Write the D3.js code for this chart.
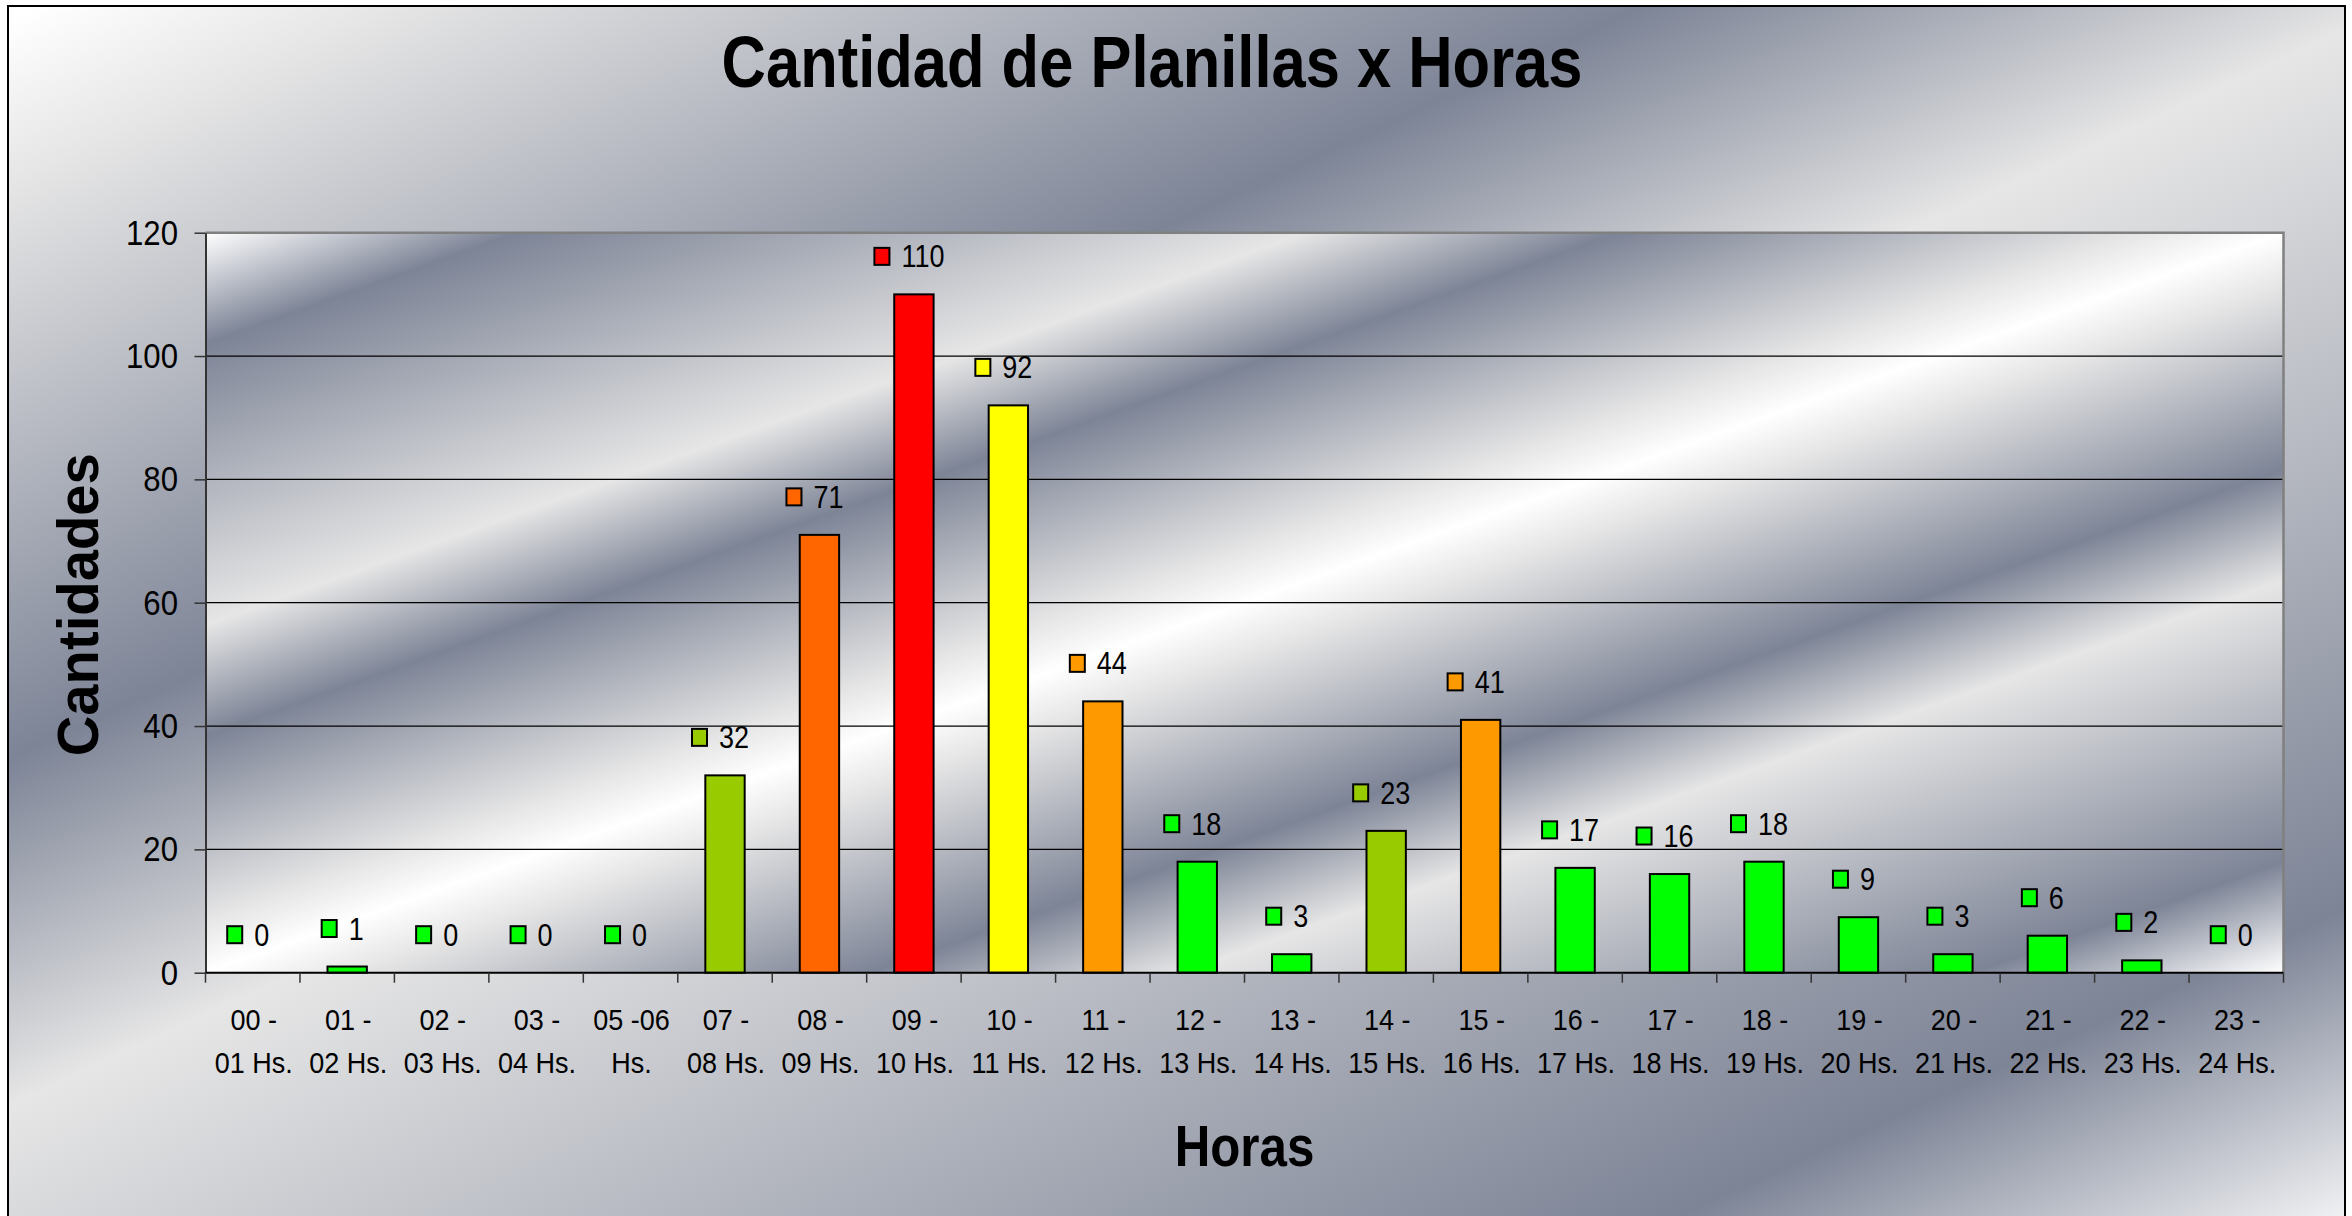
<!DOCTYPE html>
<html>
<head>
<meta charset="utf-8">
<script src="https://cdn.jsdelivr.net/npm/d3@7"></script>
<style>
  html, body { margin: 0; padding: 0; background: #fff; overflow: hidden; }
  svg { display: block; }
  text { font-family: "Liberation Sans", Arial, Helvetica, sans-serif; fill: #000; }
</style>
</head>
<body>
<svg id="chart" width="2352" height="1216"></svg>
<script>
// ---- data ----
const categories = [
  "00 - 01 Hs.", "01 - 02 Hs.", "02 - 03 Hs.", "03 - 04 Hs.", "05 -06 Hs.",
  "07 - 08 Hs.", "08 - 09 Hs.", "09 - 10 Hs.", "10 - 11 Hs.", "11 - 12 Hs.",
  "12 - 13 Hs.", "13 - 14 Hs.", "14 - 15 Hs.", "15 - 16 Hs.", "16 - 17 Hs.",
  "17 - 18 Hs.", "18 - 19 Hs.", "19 - 20 Hs.", "20 - 21 Hs.", "21 - 22 Hs.",
  "22 - 23 Hs.", "23 - 24 Hs."
];
const cantidades = [0, 1, 0, 0, 0, 32, 71, 110, 92, 44, 18, 3, 23, 41, 17, 16, 18, 9, 3, 6, 2, 0];
const yTicks = [0, 20, 40, 60, 80, 100, 120];
const chartTitle = "Cantidad de Planillas x Horas";
const yTitle = "Cantidades";
const xTitle = "Horas";

// ---- palette (one colour per bar) ----
const GREEN = "#00FF00", LIME = "#99CC00", DARKORANGE = "#FF6600",
      RED = "#FF0000", YELLOW = "#FFFF00", ORANGE = "#FF9900";
const barColors = [
  GREEN, GREEN, GREEN, GREEN, GREEN, LIME, DARKORANGE, RED, YELLOW, ORANGE,
  GREEN, GREEN, LIME, ORANGE, GREEN, GREEN, GREEN, GREEN, GREEN, GREEN, GREEN, GREEN
];

// ---- layout ----
const plot = { left: 205.5, top: 232.7, right: 2283.5, bottom: 972.7 };
const FONT = '"Liberation Sans", Arial, Helvetica, sans-serif';

const svg = d3.select("#chart");
const defs = svg.append("defs");

// Metallic "silver" diagonal fills
const WHITE = "#FFFFFF", LIGHT = "#E6E6E6", SLATE = "#7D8496";
function addGradient(id, stops, coords, userSpace) {
  const g = defs.append("linearGradient").attr("id", id)
    .attr("x1", coords[0]).attr("y1", coords[1]).attr("x2", coords[2]).attr("y2", coords[3]);
  if (userSpace) g.attr("gradientUnits", "userSpaceOnUse");
  stops.forEach(([o, c]) => g.append("stop").attr("offset", o).attr("stop-color", c));
}
addGradient("chartFill", [
  [0, WHITE], [0.07, LIGHT], [0.32, SLATE], [0.47, LIGHT], [0.85, SLATE], [1, WHITE]
], [8.8, 19, 886.6, 1927], true);
addGradient("plotFill", [
  [0, WHITE], [0.075, SLATE], [0.265, LIGHT], [0.34, SLATE], [0.465, LIGHT], [0.5, WHITE],
  [0.535, LIGHT], [0.66, SLATE], [0.735, LIGHT], [0.925, SLATE], [1, WHITE]
], [0, 0, 1, 1], false);

// chart area
svg.append("rect")
  .attr("x", 8).attr("y", 6).attr("width", 2337).attr("height", 1217)
  .attr("fill", "url(#chartFill)").attr("stroke", "#000").attr("stroke-width", 2);

// scales
const x = d3.scaleBand().domain(categories).range([plot.left, plot.right]).padding(0);
const y = d3.scaleLinear().domain([0, 120]).range([plot.bottom, plot.top]);
const barW = x.bandwidth() / 2.4;
const cx = c => x(c) + x.bandwidth() / 2;

// plot area background
svg.append("rect")
  .attr("x", plot.left).attr("y", plot.top)
  .attr("width", plot.right - plot.left).attr("height", plot.bottom - plot.top)
  .attr("fill", "url(#plotFill)");

// horizontal gridlines
svg.append("g").selectAll("line")
  .data(yTicks.filter(v => v > 0 && v < 120))
  .join("line")
  .attr("x1", plot.left).attr("x2", plot.right)
  .attr("y1", d => y(d)).attr("y2", d => y(d))
  .attr("stroke", "#000").attr("stroke-width", 1.3);

// plot area border (top and right)
svg.append("path")
  .attr("d", `M${plot.left},${plot.top}H${plot.right}V${plot.bottom}`)
  .attr("fill", "none").attr("stroke", "#808080").attr("stroke-width", 2.5);

// bars
svg.append("g").selectAll("rect")
  .data(categories.map((c, i) => ({ c, v: cantidades[i], color: barColors[i] })).filter(d => d.v > 0))
  .join("rect")
  .attr("x", d => cx(d.c) - barW / 2)
  .attr("y", d => y(d.v))
  .attr("width", barW)
  .attr("height", d => y(0) - y(d.v))
  .attr("fill", d => d.color)
  .attr("stroke", "#000").attr("stroke-width", 2);

// y axis
const Y_SQ = 0.89;
const yAxis = svg.append("g")
  .attr("transform", `translate(${plot.left},0)`)
  .call(d3.axisLeft(y).tickValues(yTicks).tickSize(11).tickSizeOuter(0));
yAxis.attr("font-family", null).attr("font-size", null);
yAxis.select(".domain").attr("stroke", "#333").attr("stroke-width", 2);
yAxis.selectAll(".tick line").attr("stroke", "#333").attr("stroke-width", 1.5);
yAxis.selectAll(".tick text")
  .attr("font-size", 35)
  .attr("fill", "#000")
  .attr("x", -27.5 / Y_SQ)
  .attr("dy", "0.33em")
  .attr("transform", `scale(${Y_SQ},1)`);

// x axis line and category boundary ticks
const xAxis = svg.append("g");
xAxis.append("line")
  .attr("x1", plot.left).attr("x2", plot.right)
  .attr("y1", plot.bottom).attr("y2", plot.bottom)
  .attr("stroke", "#000").attr("stroke-width", 2);
const bounds = categories.map(c => x(c)).concat([x(categories[categories.length - 1]) + x.bandwidth()]);
xAxis.selectAll("line.tk")
  .data(bounds)
  .join("line").attr("class", "tk")
  .attr("x1", d => d).attr("x2", d => d)
  .attr("y1", plot.bottom).attr("y2", plot.bottom + 10)
  .attr("stroke", "#333").attr("stroke-width", 1.5);

// wrapped category labels
const X_SQ = 0.9, X_FS = 30, X_MAXW = 81;
const measureCtx = document.createElement("canvas").getContext("2d");
measureCtx.font = `${X_FS}px ${FONT}`;
function wrap(label) {
  const words = label.split(" ");
  const lines = [];
  let cur = "";
  words.forEach(w => {
    const test = cur ? cur + " " + w : w;
    if (cur && measureCtx.measureText(test).width * X_SQ > X_MAXW) {
      lines.push(cur);
      cur = w;
    } else {
      cur = test;
    }
  });
  if (cur) lines.push(cur);
  return lines;
}
const xLabels = xAxis.selectAll("g.lbl")
  .data(categories)
  .join("g").attr("class", "lbl")
  .attr("transform", d => `translate(${cx(d) + 1},0)`);
xLabels.append("text")
  .attr("text-anchor", "middle")
  .attr("font-size", X_FS)
  .attr("transform", `scale(${X_SQ},1)`)
  .each(function (d) {
    const t = d3.select(this);
    wrap(d).forEach((ln, k) => {
      t.append("tspan").attr("x", 0).attr("y", 1030 + k * 43).text(ln);
    });
  });

// value labels: colour key + number
const V_SQ = 0.87, V_FS = 31, KEY_W = 17, KEY_H = 19, KEY_GAP = 11;
const valueLabels = svg.append("g").selectAll("g")
  .data(categories.map((c, i) => ({ c, v: cantidades[i], color: barColors[i] })))
  .join("g");
valueLabels.each(function (d) {
  const g = d3.select(this);
  const cy = y(d.v) - 38;
  const txt = g.append("text")
    .attr("font-size", V_FS)
    .text(d.v);
  const tw = txt.node().getComputedTextLength() * V_SQ;
  const total = KEY_W + KEY_GAP + tw;
  const left = cx(d.c) - 5 - total / 2;
  txt.attr("transform", `translate(${left + KEY_W + KEY_GAP},${cy + 11}) scale(${V_SQ},1)`);
  g.insert("rect", "text")
    .attr("x", left + 1).attr("y", cy - KEY_H / 2 + 1)
    .attr("width", KEY_W - 2).attr("height", KEY_H - 2)
    .attr("fill", d.color).attr("stroke", "#000").attr("stroke-width", 2);
});

// titles
svg.append("text")
  .attr("transform", "translate(1152,87) scale(0.854,1)")
  .attr("text-anchor", "middle")
  .attr("font-size", 72).attr("font-weight", "bold")
  .text(chartTitle);

svg.append("text")
  .attr("transform", `translate(${(plot.left + plot.right) / 2},1166) scale(0.85,1)`)
  .attr("text-anchor", "middle")
  .attr("font-size", 58).attr("font-weight", "bold")
  .text(xTitle);

svg.append("text")
  .attr("transform", `translate(98,${(plot.top + plot.bottom) / 2 + 2}) rotate(-90) scale(0.97,1)`)
  .attr("text-anchor", "middle")
  .attr("font-size", 58).attr("font-weight", "bold")
  .text(yTitle);
</script>
</body>
</html>
